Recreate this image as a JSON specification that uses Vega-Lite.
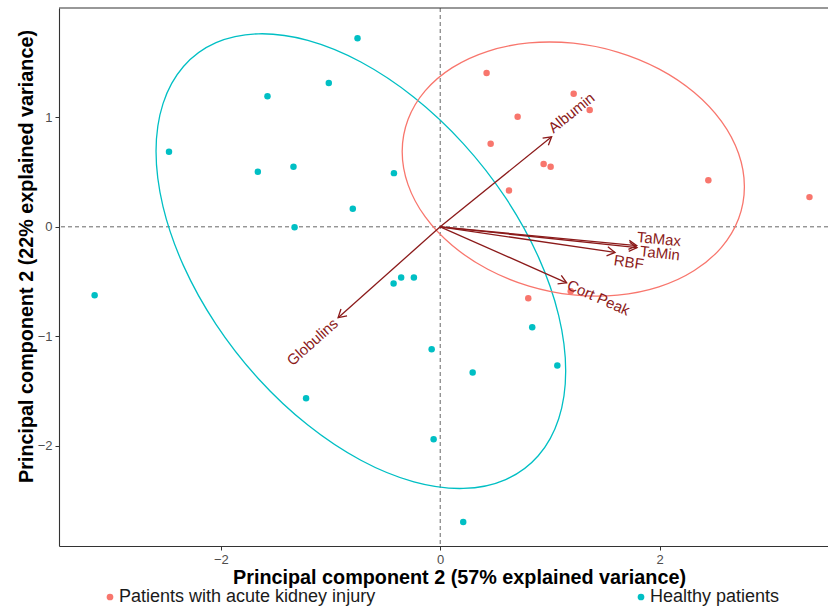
{
  "$schema": "https://vega.github.io/schema/vega-lite/v6.json",
  "width": 769,
  "height": 538,
  "autosize": {"type": "none"},
  "padding": {"left": 59, "top": 8, "right": 0, "bottom": 60},
  "background": "white",
  "config": {
    "view": {"stroke": null},
    "font": "Liberation Sans",
    "axis": {
      "grid": false,
      "domainColor": "#333333",
      "domainWidth": 1.1,
      "tickColor": "#333333",
      "tickSize": 4,
      "labelColor": "#4d4d4d",
      "labelFontSize": 13,
      "labelFont": "Liberation Sans",
      "titleFont": "Liberation Sans",
      "titleFontSize": 19.8,
      "titleFontWeight": "bold",
      "titleColor": "#000000"
    }
  },
  "datasets": {
    "scores": [
      {"x": -3.151, "y": -0.624, "group": "Healthy patients"},
      {"x": -2.473, "y": 0.685, "group": "Healthy patients"},
      {"x": -1.663, "y": 0.502, "group": "Healthy patients"},
      {"x": -1.575, "y": 1.191, "group": "Healthy patients"},
      {"x": -1.338, "y": 0.548, "group": "Healthy patients"},
      {"x": -1.328, "y": -0.005, "group": "Healthy patients"},
      {"x": -1.223, "y": -1.564, "group": "Healthy patients"},
      {"x": -1.016, "y": 1.312, "group": "Healthy patients"},
      {"x": -0.797, "y": 0.164, "group": "Healthy patients"},
      {"x": -0.754, "y": 1.721, "group": "Healthy patients"},
      {"x": -0.425, "y": -0.517, "group": "Healthy patients"},
      {"x": -0.422, "y": 0.49, "group": "Healthy patients"},
      {"x": -0.356, "y": -0.462, "group": "Healthy patients"},
      {"x": -0.24, "y": -0.462, "group": "Healthy patients"},
      {"x": -0.078, "y": -1.117, "group": "Healthy patients"},
      {"x": -0.06, "y": -1.939, "group": "Healthy patients"},
      {"x": 0.21, "y": -2.694, "group": "Healthy patients"},
      {"x": 0.296, "y": -1.33, "group": "Healthy patients"},
      {"x": 0.839, "y": -0.916, "group": "Healthy patients"},
      {"x": 1.068, "y": -1.266, "group": "Healthy patients"},
      {"x": 0.423, "y": 1.404, "group": "Patients with acute kidney injury"},
      {"x": 0.46, "y": 0.758, "group": "Patients with acute kidney injury"},
      {"x": 0.627, "y": 0.332, "group": "Patients with acute kidney injury"},
      {"x": 0.706, "y": 1.005, "group": "Patients with acute kidney injury"},
      {"x": 0.803, "y": -0.651, "group": "Patients with acute kidney injury"},
      {"x": 0.943, "y": 0.573, "group": "Patients with acute kidney injury"},
      {"x": 1.007, "y": 0.548, "group": "Patients with acute kidney injury"},
      {"x": 1.19, "y": -0.587, "group": "Patients with acute kidney injury"},
      {"x": 1.217, "y": 1.215, "group": "Patients with acute kidney injury"},
      {"x": 1.363, "y": 1.066, "group": "Patients with acute kidney injury"},
      {"x": 2.445, "y": 0.424, "group": "Patients with acute kidney injury"},
      {"x": 3.367, "y": 0.271, "group": "Patients with acute kidney injury"}
    ],
    "ellipses": [
      {"group": "Healthy patients", "i": 0, "x": 1.1442, "y": -1.315},
      {"group": "Healthy patients", "i": 1, "x": 1.0805, "y": -1.7511},
      {"group": "Healthy patients", "i": 2, "x": 0.894, "y": -2.0895},
      {"group": "Healthy patients", "i": 3, "x": 0.5972, "y": -2.3067},
      {"group": "Healthy patients", "i": 4, "x": 0.2104, "y": -2.388},
      {"group": "Healthy patients", "i": 5, "x": -0.2401, "y": -2.3279},
      {"group": "Healthy patients", "i": 6, "x": -0.7235, "y": -2.1306},
      {"group": "Healthy patients", "i": 7, "x": -1.2069, "y": -1.8093},
      {"group": "Healthy patients", "i": 8, "x": -1.6574, "y": -1.3862},
      {"group": "Healthy patients", "i": 9, "x": -2.0442, "y": -0.8899},
      {"group": "Healthy patients", "i": 10, "x": -2.341, "y": -0.3543},
      {"group": "Healthy patients", "i": 11, "x": -2.5275, "y": 0.1841},
      {"group": "Healthy patients", "i": 12, "x": -2.5912, "y": 0.6886},
      {"group": "Healthy patients", "i": 13, "x": -2.5275, "y": 1.1247},
      {"group": "Healthy patients", "i": 14, "x": -2.341, "y": 1.4631},
      {"group": "Healthy patients", "i": 15, "x": -2.0442, "y": 1.6803},
      {"group": "Healthy patients", "i": 16, "x": -1.6574, "y": 1.7616},
      {"group": "Healthy patients", "i": 17, "x": -1.2069, "y": 1.7015},
      {"group": "Healthy patients", "i": 18, "x": -0.7235, "y": 1.5042},
      {"group": "Healthy patients", "i": 19, "x": -0.2401, "y": 1.1829},
      {"group": "Healthy patients", "i": 20, "x": 0.2104, "y": 0.7598},
      {"group": "Healthy patients", "i": 21, "x": 0.5972, "y": 0.2635},
      {"group": "Healthy patients", "i": 22, "x": 0.894, "y": -0.2721},
      {"group": "Healthy patients", "i": 23, "x": 1.0805, "y": -0.8105},
      {"group": "Patients with acute kidney injury", "i": 0, "x": 2.7737, "y": 0.3657},
      {"group": "Patients with acute kidney injury", "i": 1, "x": 2.7205, "y": 0.0739},
      {"group": "Patients with acute kidney injury", "i": 2, "x": 2.5647, "y": -0.187},
      {"group": "Patients with acute kidney injury", "i": 3, "x": 2.3167, "y": -0.3993},
      {"group": "Patients with acute kidney injury", "i": 4, "x": 1.9936, "y": -0.5484},
      {"group": "Patients with acute kidney injury", "i": 5, "x": 1.6173, "y": -0.6242},
      {"group": "Patients with acute kidney injury", "i": 6, "x": 1.2135, "y": -0.6217},
      {"group": "Patients with acute kidney injury", "i": 7, "x": 0.8097, "y": -0.5408},
      {"group": "Patients with acute kidney injury", "i": 8, "x": 0.4334, "y": -0.3872},
      {"group": "Patients with acute kidney injury", "i": 9, "x": 0.1103, "y": -0.1713},
      {"group": "Patients with acute kidney injury", "i": 10, "x": -0.1377, "y": 0.0922},
      {"group": "Patients with acute kidney injury", "i": 11, "x": -0.2935, "y": 0.3853},
      {"group": "Patients with acute kidney injury", "i": 12, "x": -0.3467, "y": 0.6881},
      {"group": "Patients with acute kidney injury", "i": 13, "x": -0.2935, "y": 0.9799},
      {"group": "Patients with acute kidney injury", "i": 14, "x": -0.1377, "y": 1.2408},
      {"group": "Patients with acute kidney injury", "i": 15, "x": 0.1103, "y": 1.4531},
      {"group": "Patients with acute kidney injury", "i": 16, "x": 0.4334, "y": 1.6022},
      {"group": "Patients with acute kidney injury", "i": 17, "x": 0.8097, "y": 1.678},
      {"group": "Patients with acute kidney injury", "i": 18, "x": 1.2135, "y": 1.6755},
      {"group": "Patients with acute kidney injury", "i": 19, "x": 1.6173, "y": 1.5946},
      {"group": "Patients with acute kidney injury", "i": 20, "x": 1.9936, "y": 1.441},
      {"group": "Patients with acute kidney injury", "i": 21, "x": 2.3167, "y": 1.2251},
      {"group": "Patients with acute kidney injury", "i": 22, "x": 2.5647, "y": 0.9616},
      {"group": "Patients with acute kidney injury", "i": 23, "x": 2.7205, "y": 0.6685}
    ],
    "loadings": [
      {"var": "Albumin", "x": 1.016, "y": 0.822, "lx": 1.005, "ly": 0.885},
      {"var": "Globulins", "x": -0.931, "y": -0.829, "lx": -0.952, "ly": -0.861},
      {"var": "TaMax", "x": 1.792, "y": -0.172, "lx": 1.795, "ly": -0.094},
      {"var": "TaMin", "x": 1.795, "y": -0.19, "lx": 1.822, "ly": -0.222},
      {"var": "RBF", "x": 1.594, "y": -0.234, "lx": 1.585, "ly": -0.304},
      {"var": "Cort Peak", "x": 1.153, "y": -0.511, "lx": 1.165, "ly": -0.524}
    ]
  },
  "layer": [
    {
      "data": {"values": [{"v": 0}]},
      "mark": {"type": "rule", "strokeDash": [4, 3], "color": "#555555", "strokeWidth": 0.9},
      "encoding": {
        "x": {"field": "v", "type": "quantitative", "scale": {"domain": [-3.476, 3.536], "nice": false, "zero": false},
              "axis": {"orient": "bottom", "values": [-2, 0, 2], "format": "d", "title": "Principal component 2 (57% explained variance)", "labelPadding": 3, "titleX": 400, "titleY": 21, "titleBaseline": "top"}}
      }
    },
    {
      "data": {"values": [{"v": 0}]},
      "mark": {"type": "rule", "strokeDash": [4, 3], "color": "#555555", "strokeWidth": 0.9},
      "encoding": {
        "y": {"field": "v", "type": "quantitative", "scale": {"domain": [-2.913, 1.997], "nice": false, "zero": false},
              "axis": {"values": [-2, -1, 0, 1], "format": "d", "title": "Principal component 2 (22% explained variance)", "labelPadding": 3, "titleX": -23, "titleY": 248}}
      }
    },
    {
      "data": {"values": [{"v": 1.997}]},
      "mark": {"type": "rule", "color": "#333333", "strokeWidth": 1.1},
      "encoding": {
        "y": {"field": "v", "type": "quantitative"}
      }
    },
    {
      "data": {"name": "scores"},
      "mark": {"type": "circle", "size": 42, "opacity": 1},
      "encoding": {
        "x": {"field": "x", "type": "quantitative"},
        "y": {"field": "y", "type": "quantitative"},
        "color": {"field": "group", "type": "nominal",
                  "scale": {"domain": ["Patients with acute kidney injury", "Healthy patients"], "range": ["#F8766D", "#00BFC4"]},
                  "legend": {"title": null, "orient": "none", "legendX": 42, "legendY": 580, "direction": "horizontal",
                             "columnPadding": 256, "labelFontSize": 18, "labelFont": "Liberation Sans", "labelColor": "#1a1a1a",
                             "labelLimit": 0, "symbolSize": 45, "symbolType": "circle", "padding": 0, "labelOffset": 0, "symbolStrokeWidth": 0}}
      }
    },
    {
      "data": {"name": "ellipses"},
      "mark": {"type": "line", "interpolate": "cardinal-closed", "strokeWidth": 1.3},
      "encoding": {
        "x": {"field": "x", "type": "quantitative"},
        "y": {"field": "y", "type": "quantitative"},
        "order": {"field": "i", "type": "quantitative"},
        "stroke": {"field": "group", "type": "nominal",
                   "scale": {"domain": ["Patients with acute kidney injury", "Healthy patients"], "range": ["#F8766D", "#00BFC4"]},
                   "legend": null}
      }
    },
    {
      "data": {"name": "loadings"},
      "mark": {"type": "rule", "color": "#8B1A1A", "strokeWidth": 1.3},
      "encoding": {
        "x": {"field": "x", "type": "quantitative"},
        "y": {"field": "y", "type": "quantitative"},
        "x2": {"datum": 0},
        "y2": {"datum": 0}
      }
    },
    {
      "data": {"name": "loadings"},
      "transform": [{"calculate": "-atan2(datum.y, datum.x) * 180 / PI", "as": "ang"}],
      "mark": {"type": "point", "shape": "M-1,-0.577L0,0L-1,0.577", "filled": false, "size": 250, "stroke": "#8B1A1A", "strokeWidth": 1.3, "opacity": 1},
      "encoding": {
        "x": {"field": "x", "type": "quantitative"},
        "y": {"field": "y", "type": "quantitative"},
        "angle": {"field": "ang", "type": "quantitative", "scale": null}
      }
    },
    {
      "data": {"name": "loadings"},
      "transform": [
        {"filter": "datum.x >= 0"},
        {"calculate": "-atan2(datum.y, datum.x) * 180 / PI", "as": "tang"}
      ],
      "mark": {"type": "text", "align": "left", "baseline": "middle", "fontSize": 15, "font": "Liberation Sans", "color": "#8B1A1A"},
      "encoding": {
        "x": {"field": "lx", "type": "quantitative"},
        "y": {"field": "ly", "type": "quantitative"},
        "text": {"field": "var"},
        "angle": {"field": "tang", "type": "quantitative", "scale": null}
      }
    },
    {
      "data": {"name": "loadings"},
      "transform": [
        {"filter": "datum.x < 0"},
        {"calculate": "180 - atan2(datum.y, datum.x) * 180 / PI", "as": "tang"}
      ],
      "mark": {"type": "text", "align": "right", "baseline": "middle", "fontSize": 15, "font": "Liberation Sans", "color": "#8B1A1A"},
      "encoding": {
        "x": {"field": "lx", "type": "quantitative"},
        "y": {"field": "ly", "type": "quantitative"},
        "text": {"field": "var"},
        "angle": {"field": "tang", "type": "quantitative", "scale": null}
      }
    }
  ]
}
